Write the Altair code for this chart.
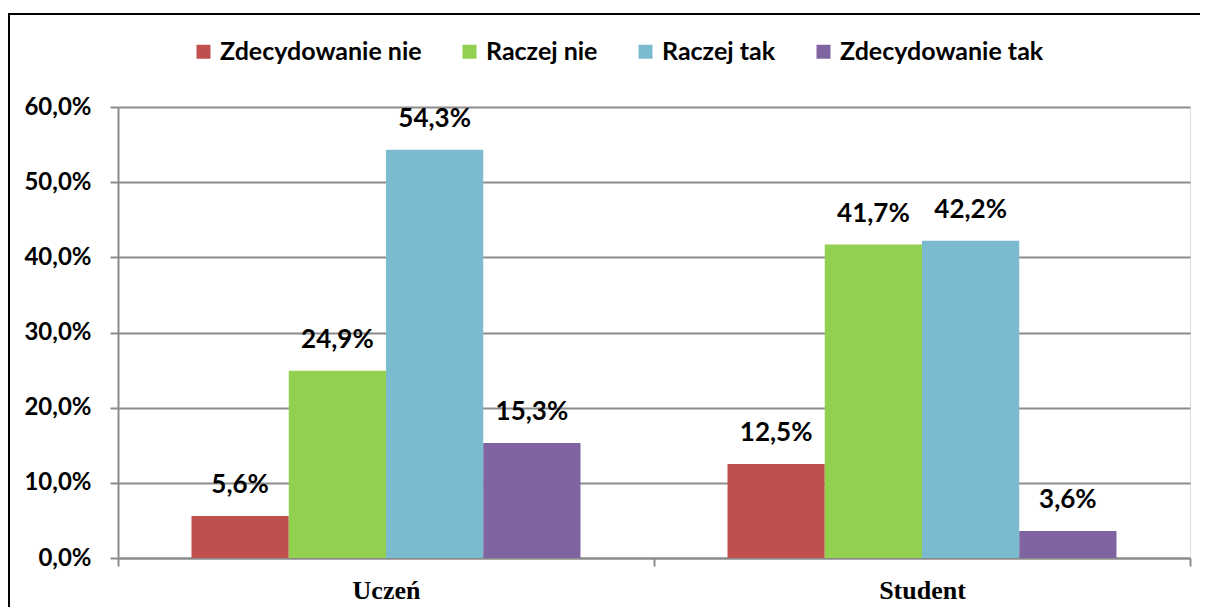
import altair as alt
import pandas as pd

groups = ["Uczeń", "Student"]
series = ["Zdecydowanie nie", "Raczej nie", "Raczej tak", "Zdecydowanie tak"]
colors = ["#C0504D", "#92D050", "#7BBBD0", "#8064A2"]
uczen = [5.6, 24.9, 54.3, 15.3]
student = [12.5, 41.7, 42.2, 3.6]
y_ticks = [0, 10, 20, 30, 40, 50, 60]

rows = []
for s, v in zip(series, uczen):
    rows.append({"group": "Uczeń", "series": s, "value": v})
for s, v in zip(series, student):
    rows.append({"group": "Student", "series": s, "value": v})
df = pd.DataFrame(rows)

FONT = "Lato"

x_enc = alt.X(
    "group:N", sort=groups,
    scale=alt.Scale(paddingInner=0, paddingOuter=0),
    axis=alt.Axis(title=None, labelAngle=0, tickBand="extent",
                  labelFont="Liberation Serif", labelFontWeight="bold",
                  labelFontSize=26, labelColor="#000000", labelPadding=11,
                  domainColor="#8c8c8c", domainWidth=2,
                  tickColor="#8c8c8c", tickWidth=2, tickSize=8, grid=False),
)
xo_enc = alt.XOffset("series:N", sort=series,
                     scale=alt.Scale(paddingInner=0, paddingOuter=0.756))
y_enc = alt.Y(
    "value:Q",
    scale=alt.Scale(domain=[0, 60], nice=False),
    axis=alt.Axis(title=None, values=y_ticks,
                  labelExpr="replace(format(datum.value, '.1f'), '.', ',') + '%'",
                  labelFont=FONT, labelFontWeight="bold", labelFontSize=24,
                  labelColor="#000000", labelPadding=19,
                  grid=True, gridColor="#8c8c8c", gridWidth=2,
                  domainColor="#8c8c8c", domainWidth=2,
                  tickColor="#8c8c8c", tickWidth=2, tickSize=8),
)

base = alt.Chart(df)

bars = base.mark_bar().encode(
    x=x_enc, xOffset=xo_enc, y=y_enc,
    color=alt.Color("series:N", sort=series,
                    scale=alt.Scale(domain=series, range=colors),
                    legend=alt.Legend(title=None, orient="none",
                                      legendX=73, legendY=-68,
                                      direction="horizontal",
                                      symbolType="square", symbolSize=196,
                                      symbolStrokeWidth=0,
                                      labelFont=FONT, labelFontWeight="bold",
                                      labelFontSize=25, labelColor="#000000",
                                      labelLimit=0,
                                      labelOffset=4, columnPadding=35)),
)

labels = base.transform_calculate(
    lbl="replace(format(datum.value, '.1f'), '.', ',') + '%'"
).mark_text(font=FONT, fontWeight="bold", fontSize=26, color="#000000",
            baseline="bottom", dy=-18).encode(
    x=x_enc, xOffset=xo_enc, y=y_enc, text="lbl:N"
)

frame_top = alt.Chart(pd.DataFrame({"a": [0]})).mark_rule(
    color="#000000", strokeWidth=2).encode(
    x=alt.value(-110), x2=alt.value(1082), y=alt.value(-93))
frame_left = alt.Chart(pd.DataFrame({"a": [0]})).mark_rule(
    color="#000000", strokeWidth=2).encode(
    x=alt.value(-109), y=alt.value(-94), y2=alt.value(600))

chart = alt.layer(bars, labels, frame_top, frame_left).properties(
    width=1072, height=451,
    autosize=alt.AutoSizeParams(type="none"),
    padding={"left": 110, "top": 99, "right": 10, "bottom": 49},
).configure_view(stroke=None).configure(background="white")

chart.save("out.html", embed_options={"renderer": "svg", "actions": False})
